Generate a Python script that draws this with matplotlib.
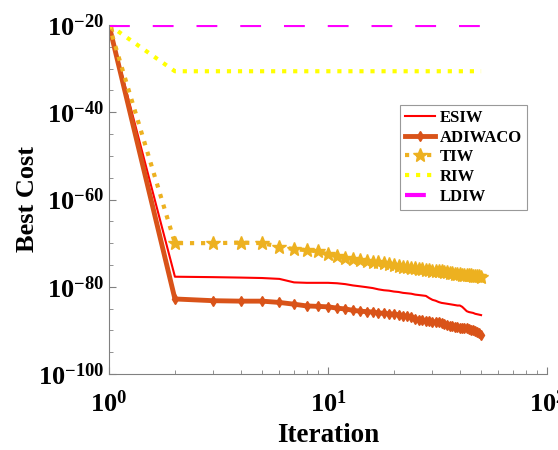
import numpy as np
import matplotlib
matplotlib.use('Agg')
from matplotlib import pyplot as plt
from matplotlib.ticker import NullFormatter

plt.rcParams['font.family'] = 'Liberation Serif'
plt.rcParams['font.weight'] = 'bold'
plt.rcParams['mathtext.fontset'] = 'custom'
plt.rcParams['mathtext.rm'] = 'Liberation Serif:bold'
plt.rcParams['mathtext.it'] = 'Liberation Serif:bold'
plt.rcParams['mathtext.bf'] = 'Liberation Serif:bold'
plt.rcParams['axes.unicode_minus'] = False

# Data (best cost given as base-10 exponents)
iterations = np.arange(1, 51)
ldiw_exp = [-20.0] * 50
riw_exp = [-20.0] + [-30.6] * 49
tiw_exp = [-20.0, -70.0, -70.0, -69.9, -70.0, -70.8, -71.4, -71.6, -71.9, -72.6,
           -72.9, -73.5, -73.7, -73.9, -74.1, -74.3, -74.4, -74.6, -74.8, -75.0,
           -75.3, -75.4, -75.5, -75.6, -75.8, -75.9, -76.0, -76.1, -76.2, -76.3,
           -76.4, -76.4, -76.5, -76.6, -76.7, -76.8, -76.9, -77.0, -77.0, -77.1,
           -77.2, -77.3, -77.3, -77.4, -77.4, -77.5, -77.5, -77.6, -77.6, -77.7]
esiw_exp = [-20.0, -77.7, -77.8, -77.9, -78.0, -78.2, -79.0, -79.1, -79.1, -79.1,
            -79.2, -79.4, -79.7, -79.9, -80.1, -80.3, -80.6, -80.8, -80.9, -81.1,
            -81.2, -81.4, -81.5, -81.6, -81.8, -81.9, -82.0, -82.1, -82.6, -83.0,
            -83.2, -83.5, -83.7, -83.8, -83.9, -84.0, -84.1, -84.2, -84.3, -84.3,
            -84.6, -85.1, -85.6, -85.8, -85.9, -86.0, -86.2, -86.3, -86.4, -86.5]
adiwaco_exp = [-20.0, -82.8, -83.2, -83.3, -83.3, -83.6, -84.0, -84.4, -84.5, -84.6,
               -84.9, -85.1, -85.4, -85.6, -85.7, -85.8, -86.0, -86.1, -86.2, -86.3,
               -86.4, -86.6, -86.8, -87.0, -87.3, -87.6, -87.7, -87.8, -87.9, -88.0,
               -88.1, -88.1, -88.3, -88.5, -88.7, -88.9, -89.1, -89.2, -89.3, -89.4,
               -89.4, -89.5, -89.5, -89.6, -89.8, -90.0, -90.2, -90.4, -90.7, -91.0]

def cost(e):
    return 10.0 ** np.array(e)

fig = plt.figure(figsize=(5.58, 4.5), dpi=100)
ax = fig.add_axes([109 / 558, 1 - 374 / 450, (547 - 109) / 558, (374 - 25) / 450])

ax.plot(iterations, cost(esiw_exp), color='#FF0000', lw=1.5, label='ESIW')
ax.plot(iterations, cost(adiwaco_exp), color='#D95319', lw=3.5, marker='d',
        markersize=5, label='ADIWACO')
ax.plot(iterations, cost(tiw_exp), color='#EDB120', lw=3, ls=':', marker='*',
        markersize=10, label='TIW')
ax.plot(iterations, cost(riw_exp), color='#FFFF00', lw=3, ls=':', label='RIW')
ax.plot(iterations, cost(ldiw_exp), color='#FF00FF', lw=3, ls=(0, (5, 5.5)),
        label='LDIW')

ax.set_xscale('log')
ax.set_yscale('log')
ax.set_xlim(1, 100)
ax.set_ylim(1e-100, 1e-20)
ax.set_yticks([1e-100, 1e-80, 1e-60, 1e-40, 1e-20])
ax.set_yticks([10.0 ** -k for k in range(25, 100, 5) if k % 20], minor=True)
ax.yaxis.set_minor_formatter(NullFormatter())

for s in ['top', 'right']:
    ax.spines[s].set_visible(False)
for s in ['left', 'bottom']:
    ax.spines[s].set_color('#808080')
ax.tick_params(which='both', direction='in', color='#808080', labelsize=19)
ax.tick_params(which='major', length=5)
ax.tick_params(which='minor', length=3)
ax.tick_params(axis='x', pad=12)

ax.set_xlabel('Iteration', fontsize=19.5, fontweight='bold')
ax.set_ylabel('Best Cost', fontsize=19, fontweight='bold', labelpad=-1)

leg = ax.legend(loc='upper left', bbox_to_anchor=(400 / 558, 1 - 105 / 450),
                bbox_transform=fig.transFigure, borderaxespad=0, fontsize=12,
                frameon=True, fancybox=False, handlelength=1.8, handletextpad=0.3,
                borderpad=0.3, labelspacing=0.22)
leg.get_frame().set_edgecolor('#808080')
leg.get_frame().set_linewidth(0.8)

fig.savefig('out.png', dpi=100)
